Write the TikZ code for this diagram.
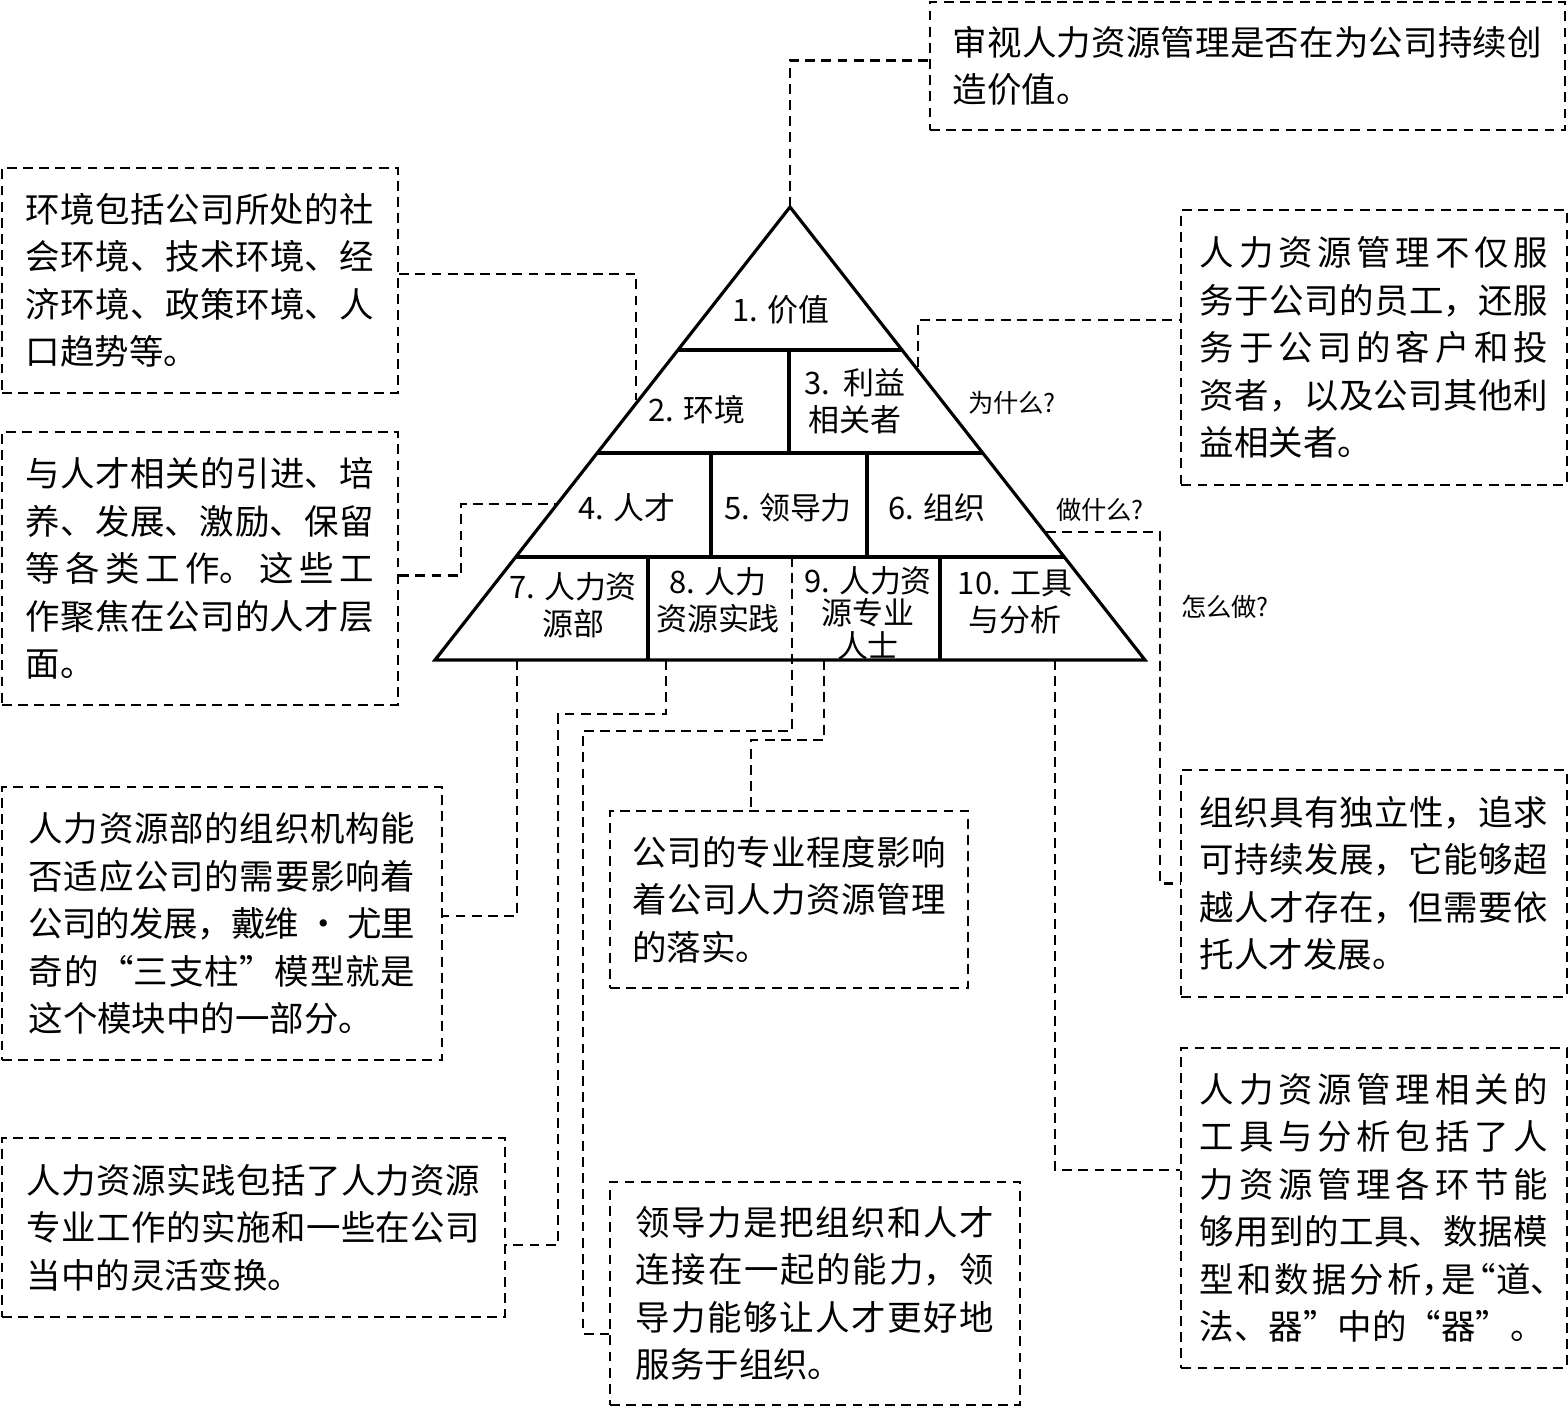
\documentclass[tikz,border=0pt]{standalone}
\usepackage{fontspec}
\setmainfont{Noto Sans CJK SC}
\XeTeXlinebreaklocale "zh"
\XeTeXlinebreakskip=0pt plus 3pt minus 0.6pt
\usetikzlibrary{calc}
\newcommand\notefont{\fontsize{9.8pt}{13.5pt}\selectfont}
\newcommand\cellfont{\fontsize{8.8pt}{10.6pt}\selectfont}
\newcommand\askfont{\fontsize{7.2pt}{8pt}\selectfont}
\newcommand\halfpunct{\addfontfeatures{RawFeature=+halt}}

\begin{document}
\begin{tikzpicture}[x=0.01cm, y=-0.01cm,
  note/.style={draw, dash pattern=on 2.8pt off 1.8pt, line width=0.6pt,
    align=justify, font=\notefont, inner sep=0pt},
  link/.style={dash pattern=on 2.8pt off 1.8pt, line width=0.6pt},
  wall/.style={line width=0.9pt},
  cell/.style={font=\cellfont, align=center, inner sep=0pt},
  ask/.style={font=\askfont, inner sep=0pt}]

\useasboundingbox (0,0) rectangle (1568,1408);

% Define vertices
\coordinate (apex) at (790,207);
\coordinate (bl) at (435,660);
\coordinate (br) at (1145,660);

% Draw the pyramid
\draw[wall, line join=miter] (apex) -- (bl) -- (br) -- cycle;

% Row lines
\foreach \f in {0.3157, 0.543, 0.7726}
  \draw[wall] ($(apex)!\f!(bl)$) -- ($(apex)!\f!(br)$);

% Cell dividers
\draw[wall] (789,350) -- (789,453);
\draw[wall] (711,453) -- (711,557);
\draw[wall] (867,453) -- (867,557);
\draw[wall] (648,557) -- (648,660);
\draw[wall] (940,557) -- (940,660);

% Cell labels
\node[cell] (c1) at (781,310) {1. 价值};
\node[cell] (c2) at (697,410) {2. 环境};
\node[cell] (c3) at (855,401) {3.~\ 利益\\相关者};
\node[cell] (c4) at (627,508) {4. 人才};
\node[cell] (c5) at (788,508) {5. 领导力};
\node[cell] (c6) at (937,508) {6. 组织};
\node[cell] (c7) at (573,605) {7. 人力资\\源部};
\node[cell] (c8) at (718,600) {8. 人力\\资源实践};
\node[cell, font=\fontsize{8.8pt}{9.2pt}\selectfont] (c9) at (868,613) {9. 人力资\\源专业\\人士};
\node[cell] (c10) at (1015,602) {10. 工具\\与分析};

% Questions on the right
\node[ask] (why) at (1012,403) {为什么?};
\node[ask] (what) at (1100,510) {做什么?};
\node[ask] (how) at (1225,607) {怎么做?};

% Notes
\node[note, text width=167.5pt, minimum width=6.35cm, minimum height=1.28cm] (valbox) at (1247.5,66)
  {审视人力资源管理是否在为公司持续创\linebreak 造价值。};
\node[note, text width=99pt, minimum width=3.96cm, minimum height=2.25cm] (envbox) at (200,280.5)
  {环境包括公司所处的社\linebreak 会环境、技术环境、经\linebreak 济环境、政策环境、人\linebreak 口趋势等。};
\node[note, text width=99pt, minimum width=3.96cm, minimum height=2.73cm] (talbox) at (200,568.5)
  {与人才相关的引进、培\linebreak 养、发展、激励、保留\linebreak 等各类工作。这些工\linebreak 作聚焦在公司的人才层\linebreak 面。};
\node[note, text width=99pt, minimum width=3.85cm, minimum height=2.75cm] (stkbox) at (1374,347.5)
  {人力资源管理不仅服\linebreak 务于公司的员工，还服\linebreak 务于公司的客户和投\linebreak 资者，以及公司其他利\linebreak 益相关者。};
\node[note, text width=110pt, minimum width=4.40cm, minimum height=2.73cm] (hrdbox) at (222,923.5)
  {人力资源部的组织机构能\linebreak 否适应公司的需要影响着\linebreak 公司的发展，戴维 · 尤里\linebreak 奇的“三支柱”模型就是\linebreak 这个模块中的一部分。};
\node[note, text width=89pt, minimum width=3.58cm, minimum height=1.77cm] (probox) at (789,899.5)
  {公司的专业程度影响\linebreak 着公司人力资源管理\linebreak 的落实。};
\node[note, text width=99pt, minimum width=3.85cm, minimum height=2.27cm] (orgbox) at (1374,883.5)
  {组织具有独立性，追求\linebreak 可持续发展，它能够超\linebreak 越人才存在，但需要依\linebreak 托人才发展。};
\node[note, text width=129pt, minimum width=5.03cm, minimum height=1.79cm] (prcbox) at (253.5,1227.5)
  {人力资源实践包括了人力资源\linebreak 专业工作的实施和一些在公司\linebreak 当中的灵活变换。};
\node[note, text width=102pt, minimum width=4.10cm, minimum height=2.23cm] (ldrbox) at (815,1293.5)
  {领导力是把组织和人才\linebreak 连接在一起的能力，领\linebreak 导力能够让人才更好地\linebreak 服务于组织。};
\node[note, text width=99pt, minimum width=3.85cm, minimum height=3.20cm] (toolbox) at (1374,1208)
  {人力资源管理相关的\linebreak 工具与分析包括了人\linebreak 力资源管理各环节能\linebreak 够用到的工具、数据模\linebreak {\halfpunct 型和数据分析，是“道、}\linebreak 法、器”中的“器”。};

% Points where the links meet the pyramid
\coordinate (envpt) at (636,400);
\coordinate (stkpt) at (918,367);
\coordinate (talpt) at (556,504);
\coordinate (orgpt) at (1046,532);
\coordinate (hrdpt) at (517,660);
\coordinate (prcpt) at (666,660);
\coordinate (ldrpt) at (792,557);
\coordinate (propt) at (824,660);
\coordinate (toolpt) at (1055,660);

% Links
\draw[link] (apex) |- (valbox.179);
\draw[link] (envbox.2) -| (envpt);
\draw[link] (stkpt) |- (stkbox.172);
\draw[link] (talbox.-2) -- ++(62,0) |- (talpt);
\draw[link] (orgpt) -- ++(114,0) |- (orgbox.west);
\draw[link] (hrdpt) |- (hrdbox.2);
\draw[link] (prcpt) -- ++(0,54) -- ++(-108,0) |- (prcbox.-4);
\draw[link] (ldrpt) -- ++(0,174) -- ++(-209,0) |- (ldrbox.191);
\draw[link] (propt) -- ++(0,80) -| (probox.113);
\draw[link] (toolpt) |- (toolbox.169);

\end{tikzpicture}
\end{document}
